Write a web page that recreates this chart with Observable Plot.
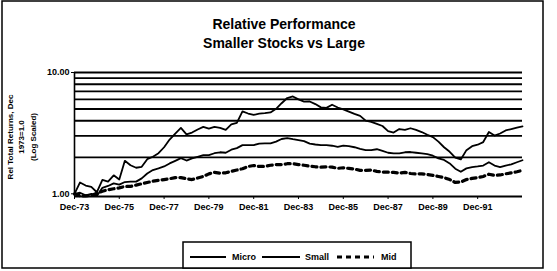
<!DOCTYPE html>
<html><head><meta charset="utf-8">
<script src="https://cdn.jsdelivr.net/npm/d3@7"></script>
<script src="https://cdn.jsdelivr.net/npm/@observablehq/plot@0.6"></script>
<style>
html,body{margin:0;padding:0;background:#fff;}
#chart{position:relative;width:557px;height:271px;overflow:hidden;background:#fff;}
</style></head><body><div id="chart"></div>
<script>
// quarter-end dates, Dec 1973 .. Dec 1993
const dates = ["1973-12",
  "1974-03","1974-06","1974-09","1974-12","1975-03","1975-06","1975-09","1975-12",
  "1976-03","1976-06","1976-09","1976-12","1977-03","1977-06","1977-09","1977-12",
  "1978-03","1978-06","1978-09","1978-12","1979-03","1979-06","1979-09","1979-12",
  "1980-03","1980-06","1980-09","1980-12","1981-03","1981-06","1981-09","1981-12",
  "1982-03","1982-06","1982-09","1982-12","1983-03","1983-06","1983-09","1983-12",
  "1984-03","1984-06","1984-09","1984-12","1985-03","1985-06","1985-09","1985-12",
  "1986-03","1986-06","1986-09","1986-12","1987-03","1987-06","1987-09","1987-12",
  "1988-03","1988-06","1988-09","1988-12","1989-03","1989-06","1989-09","1989-12",
  "1990-03","1990-06","1990-09","1990-12","1991-03","1991-06","1991-09","1991-12",
  "1992-03","1992-06","1992-09","1992-12","1993-03","1993-06","1993-09","1993-12"];
const micro = [1.00,
  1.24,1.17,1.14,1.03, 1.30,1.26,1.42,1.31, 1.87,1.72,1.64,1.67, 1.93,2.02,2.16,2.42,
  2.80,3.14,3.49,3.09, 3.20,3.39,3.56,3.44, 3.56,3.49,3.36,3.73, 3.84,4.78,4.59,4.47,
  4.58,4.62,4.69,5.02, 5.58,6.16,6.35,6.00, 5.76,5.77,5.49,5.16, 5.11,5.42,5.14,4.97,
  4.76,4.56,4.39,4.01, 3.91,3.77,3.62,3.29, 3.20,3.42,3.36,3.47, 3.36,3.23,3.07,2.93,
  2.69,2.42,2.22,1.99, 1.92,2.29,2.47,2.54, 2.67,3.23,3.02,3.14, 3.33,3.42,3.51,3.59];
const small = [1.00,
  1.02,0.97,1.00,0.96, 1.12,1.16,1.22,1.19, 1.25,1.26,1.26,1.34, 1.47,1.57,1.62,1.68,
  1.78,1.87,1.97,1.88, 1.96,2.02,2.08,2.08, 2.16,2.20,2.18,2.31, 2.38,2.52,2.52,2.52,
  2.59,2.60,2.60,2.69, 2.83,2.88,2.82,2.77, 2.72,2.59,2.55,2.52, 2.52,2.49,2.44,2.50,
  2.47,2.42,2.35,2.29, 2.29,2.33,2.26,2.18, 2.15,2.15,2.20,2.21, 2.18,2.15,2.12,2.06,
  1.96,1.90,1.78,1.61, 1.52,1.62,1.66,1.68, 1.71,1.82,1.71,1.66, 1.71,1.75,1.82,1.89];
const mid = [1.00,
  0.96,0.96,0.97,1.01, 1.05,1.08,1.10,1.12, 1.15,1.15,1.18,1.21, 1.24,1.27,1.29,1.31,
  1.33,1.36,1.36,1.33, 1.31,1.35,1.39,1.46, 1.50,1.48,1.49,1.53, 1.57,1.61,1.68,1.71,
  1.68,1.68,1.72,1.74, 1.74,1.77,1.77,1.74, 1.72,1.69,1.67,1.66, 1.67,1.66,1.62,1.64,
  1.62,1.60,1.56,1.56, 1.57,1.53,1.51,1.51, 1.50,1.48,1.50,1.47, 1.46,1.46,1.44,1.42,
  1.39,1.36,1.31,1.24, 1.25,1.31,1.34,1.36, 1.39,1.45,1.42,1.43, 1.46,1.49,1.52,1.56];

const seriesNames = ["Micro", "Small", "Mid"];
const yTicks = [1, 10];
const gridValues = [2, 3, 4, 5, 6, 7, 8, 9, 10];
const xTickLabels = ["Dec-73","Dec-75","Dec-77","Dec-79","Dec-81","Dec-83","Dec-85","Dec-87","Dec-89","Dec-91"];
const titleLines = ["Relative Performance", "Smaller Stocks vs Large"];
const yTitleLines = ["Rel Total Returns, Dec", "1973=1.0", "(Log Scaled)"];

const parse = d3.utcParse("%Y-%m");
const rows = dates.map((d, i) => ({date: parse(d), Micro: micro[i], Small: small[i], Mid: mid[i]}));
const xTicks = xTickLabels.map(s => d3.utcParse("%b-%y")(s));
const x0 = rows[0].date, x1 = rows[rows.length - 1].date;
const yMin = 0.95;
const font = "'Liberation Sans', Arial, sans-serif";

const chart = Plot.plot({
  width: 557, height: 271,
  marginLeft: 74, marginRight: 35, marginTop: 72, marginBottom: 75,
  style: {fontFamily: font, fontSize: "9px", fontWeight: "bold", color: "#000", background: "#fff"},
  x: {type: "utc", domain: [x0, x1]},
  y: {type: "log", domain: [yMin, 10]},
  marks: [
    Plot.ruleY(gridValues, {stroke: "#000", strokeWidth: 1.8}),
    Plot.ruleX([x0], {stroke: "#000", strokeWidth: 1.6}),
    Plot.ruleY([yMin], {stroke: "#000", strokeWidth: 1.8}),
    Plot.axisY({ticks: yTicks, tickFormat: d => d.toFixed(2), tickSize: 3, tickPadding: 2, label: null, fontWeight: "bold"}),
    Plot.axisX({ticks: xTicks, tickFormat: d => "Dec-" + d3.utcFormat("%y")(d), tickSize: 3, tickPadding: 4, label: null, fontWeight: "bold"}),
    Plot.lineY(rows, {x: "date", y: seriesNames[0], stroke: "#000", strokeWidth: 1.8}),
    Plot.lineY(rows, {x: "date", y: seriesNames[1], stroke: "#000", strokeWidth: 1.8}),
    Plot.lineY(rows, {x: "date", y: seriesNames[2], stroke: "#000", strokeWidth: 3.2, strokeDasharray: "5,4"})
  ]
});
document.getElementById("chart").appendChild(chart);

const svg = d3.select(chart);
// outer chart border
svg.append("rect").attr("x", 2).attr("y", 1).attr("width", 541).attr("height", 267)
  .attr("fill", "none").attr("stroke", "#000").attr("stroke-width", 1.5);
// title
svg.selectAll("text.ttl").data(titleLines).join("text").attr("class", "ttl")
  .attr("x", 284).attr("y", (d, i) => 29 + i * 19)
  .attr("text-anchor", "middle").attr("font-family", font).attr("font-weight", "bold")
  .attr("font-size", 14).attr("fill", "#000").text(d => d);
// y title (rotated, three lines)
svg.selectAll("text.ytl").data(yTitleLines).join("text").attr("class", "ytl")
  .attr("transform", (d, i) => `translate(${10 + i * 11.5},137) rotate(-90)`)
  .attr("text-anchor", "middle").attr("dominant-baseline", "central")
  .attr("font-family", font).attr("font-weight", "bold").attr("font-size", 8)
  .attr("fill", "#000").text(d => d);
// legend
const lg = svg.append("g");
lg.append("rect").attr("x", 183).attr("y", 242).attr("width", 228).attr("height", 26)
  .attr("fill", "#fff").attr("stroke", "#000").attr("stroke-width", 1.5);
const legendItems = [
  {name: seriesNames[0], x1: 190, x2: 226, tx: 232, w: 1.8, dash: null},
  {name: seriesNames[1], x1: 262, x2: 300, tx: 305, w: 1.8, dash: null},
  {name: seriesNames[2], x1: 337, x2: 374, tx: 381, w: 3.2, dash: "5,4"}
];
legendItems.forEach(it => {
  const l = lg.append("line").attr("x1", it.x1).attr("x2", it.x2).attr("y1", 257).attr("y2", 257)
    .attr("stroke", "#000").attr("stroke-width", it.w);
  if (it.dash) l.attr("stroke-dasharray", it.dash);
  lg.append("text").attr("x", it.tx).attr("y", 257).attr("text-anchor", "start")
    .attr("dominant-baseline", "central")
    .attr("font-family", font).attr("font-weight", "bold").attr("font-size", 9)
    .attr("fill", "#000").text(it.name);
});
</script></body></html>
